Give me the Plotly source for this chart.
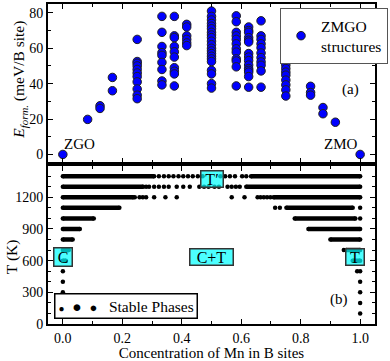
import plotly.graph_objects as go
from plotly.subplots import make_subplots

# ---- panel (a): formation energies of ZMGO structures
conc_a = [0.0, 1/12, 0.125, 1/6, 0.25, 1/3, 0.375, 5/12, 0.5, 7/12, 0.625, 2/3, 0.75, 5/6, 0.875, 11/12, 1.0]
e_form = [
    [0.0],
    [19.8],
    [27.5, 26.0],
    [43.5, 36.0],
    [65, 52.5, 51.5, 50, 48, 46, 44, 41, 37, 33.5, 31.5],
    [78, 69, 61, 57.5, 56, 52, 48, 41.5, 39.3],
    [78, 67, 66, 61, 58, 55, 49, 47, 45.5, 38.7],
    [73.5, 72, 67, 65, 63, 61.5],
    [81, 78, 76, 74, 72.5, 71, 69, 67.5, 66, 64, 62, 60, 58.5, 57, 55.5, 54, 52.5, 47.5, 45.5, 40, 37.5],
    [78.3, 75, 69, 67, 65, 62.5, 59.7, 57.8, 54, 52.8, 49.5, 38.7],
    [72, 70, 69, 66, 64.5, 63.5, 57, 55, 53, 50.5, 48.5, 47.5, 46.5, 44, 38],
    [75.5, 67, 65, 62.5, 60.3, 57.3, 54.7, 52.3, 50.4, 47.2, 38],
    [56.5, 50.5, 48.5, 46.5, 44.8, 42, 39.3, 36.5, 33],
    [38.5, 35, 33.5],
    [26.5, 23],
    [18.2],
    [0.0],
]

# ---- panel (b): stable phases, dense bands (T, x start, x end)
band_T = [1400, 1400, 1300, 1300, 1200, 1200, 1100, 1100, 1000, 1000, 900, 900, 800, 800, 700, 700, 600, 600]
band_x0 = [0.0, 0.633, 0.0, 0.617, 0.0, 0.709, 0.0, 0.752, 0.0, 0.78, 0.0, 0.826, 0.0, 0.90, 0.0, 0.953, 0.0, 0.975]
band_x1 = [0.307, 1.0, 0.27, 1.0, 0.237, 1.0, 0.19, 0.975, 0.104, 0.984, 0.057, 1.0, 0.033, 1.0, 0.02, 1.0, 0.01, 1.0]

# isolated stable compositions
dot_T = ([1400] * 16 + [1300] * 18 + [1200] * 14 + [1100] * 3 + [1000] + [700]
         + [500] * 3 + [400] * 2 + [300] * 2 + [200] * 2 + [100] * 2)
dot_x = [0.323, 0.34, 0.356, 0.372, 0.389, 0.405, 0.421, 0.437, 0.454, 0.47, 0.53,
         0.546, 0.562, 0.579, 0.603, 0.617,
         0.28, 0.29, 0.307, 0.323, 0.34, 0.356, 0.383, 0.405, 0.427, 0.459, 0.475, 0.49,
         0.51, 0.525, 0.554, 0.568, 0.582, 0.595,
         0.242, 0.258, 0.269, 0.28, 0.307, 0.345, 0.383, 0.568, 0.611, 0.655, 0.665, 0.676,
         0.687, 0.698,
         0.714, 0.73, 1.0,
         1.0,
         0.945,
         0.0, 0.99, 1.0,
         0.0, 1.0,
         0.0, 1.0,
         0.0, 1.0,
         0.0, 1.0]

t_ticks = [0, 300, 600, 900, 1200]

serif = "Liberation Serif"
fig = make_subplots(rows=2, cols=1, shared_xaxes=False, vertical_spacing=0.01)

xs, ys = [], []
for c, vals in zip(conc_a, e_form):
    xs += [c] * len(vals)
    ys += vals
fig.add_trace(go.Scatter(x=xs, y=ys, mode="markers", name="ZMGO<br>structures",
                         marker=dict(color="#0000ff", size=8.5, line=dict(color="#202020", width=1))),
              row=1, col=1)

bx, by = [], []
for t, a, b in zip(band_T, band_x0, band_x1):
    bx += [a, b, None]
    by += [t, t, None]
fig.add_trace(go.Scatter(x=bx, y=by, mode="lines+markers", showlegend=False,
                         line=dict(color="black", width=4.5),
                         marker=dict(color="black", size=4.5)),
              row=2, col=1)
fig.add_trace(go.Scatter(x=dot_x, y=dot_T, mode="markers", showlegend=False,
                         marker=dict(color="black", size=4.5)),
              row=2, col=1)

ax = dict(showline=True, linecolor="black", linewidth=1.8, mirror="allticks",
          ticks="inside", ticklen=5, tickwidth=1, tickcolor="black", zeroline=False,
          showgrid=False, tickfont=dict(family=serif, size=14, color="black"))
fig.update_xaxes(**ax, range=[-0.05, 1.05], dtick=0.2, tickformat=".1f",
                 minor=dict(dtick=0.1, ticks="inside", ticklen=3, tickcolor="black"))
fig.update_xaxes(showticklabels=False, row=1, col=1)
fig.update_xaxes(title=dict(text="Concentration of Mn in B sites", standoff=3,
                            font=dict(family=serif, size=15, color="black")), row=2, col=1)
fig.update_yaxes(**ax)
fig.update_yaxes(range=[-4.5, 85], dtick=20,
                 minor=dict(dtick=10, ticks="inside", ticklen=3, tickcolor="black"), row=1, col=1)
fig.update_yaxes(range=[0, 1500], tickvals=t_ticks,
                 minor=dict(dtick=100, ticks="inside", ticklen=3, tickcolor="black"), row=2, col=1)

txt = dict(family=serif, size=15, color="black")
box = dict(bgcolor="rgba(0,255,255,0.7)", bordercolor="#333333", borderwidth=1.5,
           borderpad=1, showarrow=False, font=dict(family=serif, size=16, color="black"),
           xanchor="center", yanchor="middle", xref="x2", yref="y2")
ann = [
    dict(x=-0.003, y=0.5, xref="x", yref="y", text="ZGO", xanchor="left", yanchor="bottom", showarrow=False, font=txt),
    dict(x=1.0, y=0.5, xref="x", yref="y", text="ZMO", xanchor="right", yanchor="bottom", showarrow=False, font=txt),
    dict(x=0.969, y=36.5, xref="x", yref="y", text="(a)", xanchor="center", yanchor="middle", showarrow=False, font=txt),
    dict(x=0.928, y=228, xref="x2", yref="y2", text="(b)", xanchor="center", yanchor="middle", showarrow=False, font=txt),
    dict(x=0.0, y=630, text="C", width=15, height=15, **box),
    dict(x=0.5, y=630, text="C+T", width=40, height=13, **box),
    dict(x=0.982, y=630, text="T", width=15, height=13, **box),
    dict(x=0.5, y=1375, text="T′", width=19, height=13, **box),
    dict(x=-0.029, y=168, xref="x2", yref="y2", xanchor="left", yanchor="middle",
         text="<span style='font-size:10px'>●</span>  ●  <span style='font-size:13px'>●</span>   Stable Phases",
         showarrow=False, font=dict(family=serif, size=15.5, color="black"),
         bgcolor="white", bordercolor="black", borderwidth=1.5, borderpad=3),
    dict(x=-0.087, y=0.762, xref="paper", yref="paper", textangle=-90, showarrow=False,
         font=dict(family=serif, size=15.5, color="black"), xanchor="center", yanchor="middle",
         text="<i>E</i><sub><i>form.</i></sub> (meV/B site)"),
    dict(x=-0.112, y=0.21, xref="paper", yref="paper", textangle=-90, showarrow=False,
         font=dict(family=serif, size=15.5, color="black"), xanchor="center", yanchor="middle",
         text="T (K)"),
]

fig.update_layout(
    width=390, height=361, margin=dict(l=48, r=2, t=2, b=35),
    paper_bgcolor="white", plot_bgcolor="white",
    annotations=ann,
    legend=dict(x=0.709, y=0.988, xanchor="left", yanchor="top", bgcolor="white",
                bordercolor="#555555", borderwidth=1.2, font=dict(family=serif, size=15.5, color="black"),
                itemwidth=30, tracegroupgap=0),
)
fig.update_xaxes(domain=[0, 1])
fig.update_yaxes(domain=[0.505, 1.0], row=1, col=1)
fig.update_yaxes(domain=[0.0, 0.495], row=2, col=1)

fig.write_html("out.html", config={"displayModeBar": False},
               post_script="document.body.style.margin='0';")
